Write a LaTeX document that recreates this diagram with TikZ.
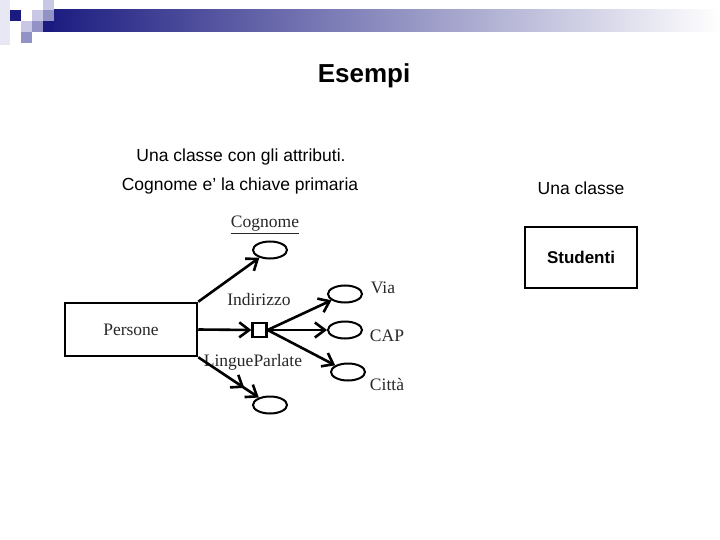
\documentclass[tikz,border=0pt]{standalone}
\usepackage{fontspec}
\setmainfont{Liberation Serif}
\newfontfamily\arialf{Liberation Sans}
\usetikzlibrary{arrows.meta,shapes.geometric}
\definecolor{navy}{RGB}{26,26,128}
\definecolor{sqlight}{RGB}{200,200,228}
\definecolor{sqmed}{RGB}{146,146,198}
\definecolor{sqpale}{RGB}{232,232,244}
\definecolor{ink}{RGB}{40,40,40}
\tikzset{
  sans/.style={font=\arialf\fontsize{17.5}{20}\selectfont, text=black},
  serif/.style={font=\fontsize{17.5}{20}\selectfont, text=ink},
  attr/.style={draw=black, ellipse, minimum width=34pt, minimum height=17pt, inner sep=0pt, line width=2pt},
  ent/.style={draw=black, rectangle, line width=2.5pt, inner sep=0pt},
  arr/.style={line width=2.6pt, -{Straight Barb[length=10pt,width=15pt]}},
  arrr/.style={line width=2.6pt, -{Straight Barb[length=10pt,width=15pt,sep=4pt]Straight Barb[length=10pt,width=15pt]}},
}
\begin{document}
\begin{tikzpicture}[x=1pt,y=-1pt]
\useasboundingbox (0,0) rectangle (720,540);
\fill[white] (0,0) rectangle (720,540);
% header decoration
\shade[left color=navy, right color=white] (43,10) rectangle (720,32);
\fill[sqpale] (0,0) rectangle (10,45);
\fill[navy] (10,10) rectangle (21,21);
\fill[sqlight] (32,10) rectangle (43,21);
\fill[sqlight] (43,0) rectangle (54,10);
\fill[sqmed] (43,10) rectangle (54,21);
\fill[sqlight] (21,21) rectangle (32,32);
\fill[sqmed] (32,21) rectangle (43,32);
\fill[navy] (43,21) rectangle (54,32);
\fill[sqmed] (21,32) rectangle (32,43);
% title and captions
\node[font=\arialf\bfseries\fontsize{26}{30}\selectfont] (title) at (364,76) {Esempi};
\node[sans] (cap1) at (241,157) {Una classe con gli attributi.};
\node[sans] (cap2) at (240,186) {Cognome e’ la chiave primaria};
\node[sans] (cap3) at (581,188) {Una classe};
\node[ent, minimum width=112pt, minimum height=61pt, font=\arialf\bfseries\fontsize{17}{20}\selectfont] (stud) at (581,257.5) {Studenti};
% ER diagram
\node[ent, minimum width=132pt, minimum height=53pt, serif] (pers) at (131,329.5) {Persone};
\node[attr] (cog) at (270,250) {};
\node[serif] (cogl) at (265,225) {\underline{Cognome}};
\node[draw=black, line width=2.2pt, minimum width=14pt, minimum height=14pt, inner sep=0pt] (sq) at (259.5,330) {};
\node[serif] (indl) at (259,300) {Indirizzo};
\node[attr] (via) at (345,294) {};
\node[serif] (vial) at (383,288) {Via};
\node[attr] (capn) at (345,330) {};
\node[serif] (capl) at (387,336) {CAP};
\node[attr] (cit) at (348,372) {};
\node[serif] (citl) at (387,384) {Città};
\node[serif] (lingl) at (253,362) {LingueParlate};
\node[attr] (ling) at (270,405) {};
\draw[arr] (pers.north east) -- (cog);
\draw[arr] (pers.east) -- (sq.west);
\draw[arr] (sq.east) -- (via);
\draw[arr] (sq.east) -- (capn);
\draw[arr] (sq.east) -- (cit);
\draw[arrr] (pers.south east) -- (ling);
\end{tikzpicture}
\end{document}
